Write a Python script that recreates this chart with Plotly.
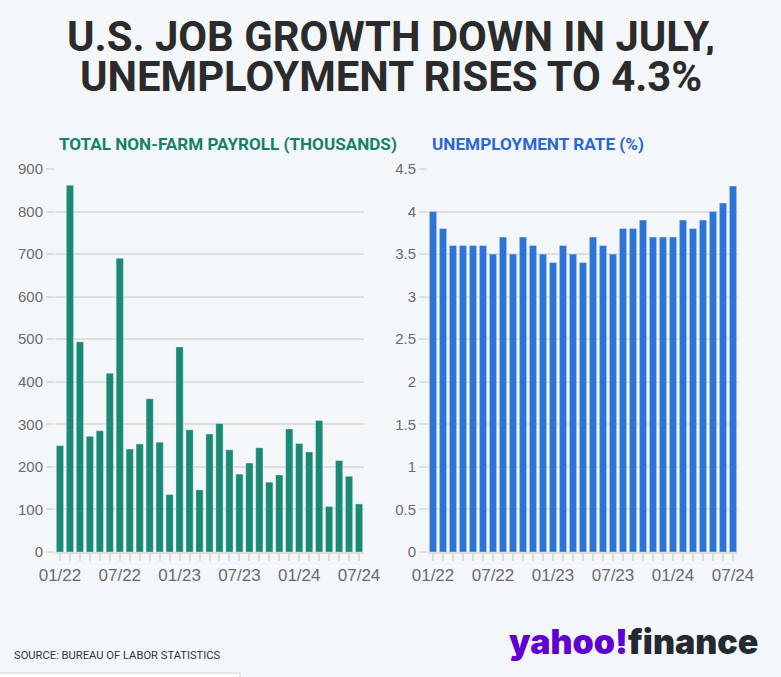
import plotly.graph_objects as go

W, H = 781, 677

months = ["01/22", "02/22", "03/22", "04/22", "05/22", "06/22", "07/22", "08/22", "09/22", "10/22", "11/22", "12/22",
          "01/23", "02/23", "03/23", "04/23", "05/23", "06/23", "07/23", "08/23", "09/23", "10/23", "11/23", "12/23",
          "01/24", "02/24", "03/24", "04/24", "05/24", "06/24", "07/24"]
payroll = [250, 862, 494, 272, 285, 420, 690, 242, 254, 360, 258, 135,
           482, 287, 146, 277, 302, 240, 183, 209, 245, 164, 181, 289,
           255, 235, 309, 107, 215, 178, 113]
unemployment = [4.0, 3.8, 3.6, 3.6, 3.6, 3.6, 3.5, 3.7, 3.5, 3.7, 3.6, 3.5,
                3.4, 3.6, 3.5, 3.4, 3.7, 3.6, 3.5, 3.8, 3.8, 3.9, 3.7, 3.7,
                3.7, 3.9, 3.8, 3.9, 4.0, 4.1, 4.3]
shown_labels = ["01/22", "07/22", "01/23", "07/23", "01/24", "07/24"]
payroll_ticks = [0, 100, 200, 300, 400, 500, 600, 700, 800, 900]
rate_ticks = [0, 0.5, 1, 1.5, 2, 2.5, 3, 3.5, 4, 4.5]
rate_ticktext = ["0", "0.5", "1", "1.5", "2", "2.5", "3", "3.5", "4", "4.5"]

BG = "#f4f7fa"
GREEN = "#1b8a74"
BLUE = "#2e74d6"
GRID = "#dedede"
TICKFONT = dict(family="Liberation Sans, Arial, sans-serif", size=15, color="#6b6b6b")


def px(x):
    return x / W


def py(y):
    return 1 - y / H


ticktext = [m if m in shown_labels else "" for m in months]

fig = go.Figure()
fig.add_trace(go.Bar(x=months, y=payroll, xaxis="x", yaxis="y",
                     marker=dict(color=GREEN, line=dict(color="rgba(255,255,255,0.35)", width=1)),
                     hoverinfo="x+y", showlegend=False))
fig.add_trace(go.Bar(x=months, y=unemployment, xaxis="x2", yaxis="y2",
                     marker=dict(color=BLUE, line=dict(color="rgba(255,255,255,0.35)", width=1)),
                     hoverinfo="x+y", showlegend=False))

xcommon = dict(type="category", tickmode="array", tickvals=months, ticktext=ticktext,
               ticks="outside", ticklen=7, tickwidth=2, tickcolor=GRID,
               showgrid=False, showline=True, linecolor=GRID, linewidth=2,
               tickfont=dict(family="Liberation Sans, Arial, sans-serif", size=17, color="#6b6b6b"),
               fixedrange=True, automargin=False)
ycommon = dict(ticks="outside", ticklen=8, tickwidth=2, tickcolor=GRID,
               showgrid=True, gridcolor=GRID, gridwidth=2, zeroline=False,
               showline=False, tickfont=TICKFONT, fixedrange=True, automargin=False)

ydom = [py(552), py(169)]
TITLEFONT = dict(family="Roboto, Inter, sans-serif", size=41.8, color="#2b2b2b", weight=700)

fig.update_layout(
    width=W, height=H, autosize=False,
    margin=dict(l=0, r=0, t=0, b=0, pad=0, autoexpand=False),
    paper_bgcolor=BG, plot_bgcolor=BG,
    bargap=0.27,
    xaxis=dict(domain=[px(55), px(364)], range=[-0.5, 30.5], anchor="y", **xcommon),
    yaxis=dict(domain=ydom, range=[0, 900], tickvals=payroll_ticks, anchor="x", **ycommon),
    xaxis2=dict(domain=[px(428), px(738)], range=[-0.5, 30.5], anchor="y2", **xcommon),
    yaxis2=dict(domain=ydom, range=[0, 4.5], tickvals=rate_ticks, ticktext=rate_ticktext, anchor="x2", **ycommon),
    annotations=[
        dict(text="U.S. JOB GROWTH DOWN IN JULY,", x=0.5, y=py(36), xref="paper", yref="paper",
             xanchor="center", yanchor="middle", showarrow=False, height=38, valign="middle",
             font=TITLEFONT),
        dict(text="UNEMPLOYMENT RISES TO 4.3%", x=0.5, y=py(75.5), xref="paper", yref="paper",
             xanchor="center", yanchor="middle", showarrow=False, height=38, valign="middle",
             font=TITLEFONT),
        dict(text="TOTAL NON-FARM PAYROLL (THOUSANDS)", x=px(57), y=py(144), xref="paper", yref="paper",
             xanchor="left", yanchor="middle", showarrow=False,
             font=dict(family="Roboto, sans-serif", size=17.1, color="#17806b", weight=700)),
        dict(text="UNEMPLOYMENT RATE (%)", x=px(430), y=py(144), xref="paper", yref="paper",
             xanchor="left", yanchor="middle", showarrow=False,
             font=dict(family="Roboto, sans-serif", size=17.2, color="#2c66d0", weight=700)),
        dict(text="SOURCE: BUREAU OF LABOR STATISTICS", x=px(12), y=py(655), xref="paper", yref="paper",
             xanchor="left", yanchor="middle", showarrow=False,
             font=dict(family="Roboto, sans-serif", size=11.2, color="#333333")),
        dict(text="<span style='color:#6001d2'>yahoo!</span>finance", x=px(760), y=py(641), xref="paper", yref="paper",
             xanchor="right", yanchor="middle", showarrow=False,
             font=dict(family="Inter, Roboto, sans-serif", size=34, color="#232a31", weight=900)),
    ],
    shapes=[
        dict(type="rect", xref="paper", yref="paper", x0=px(-5), x1=px(240), y0=py(690), y1=py(673),
             fillcolor="white", line=dict(color="#d0d0d0", width=1)),
    ],
)

fig.write_html("out.html", config={"displayModeBar": False},
               post_script="document.body.style.margin='0';document.body.style.overflow='hidden';")
